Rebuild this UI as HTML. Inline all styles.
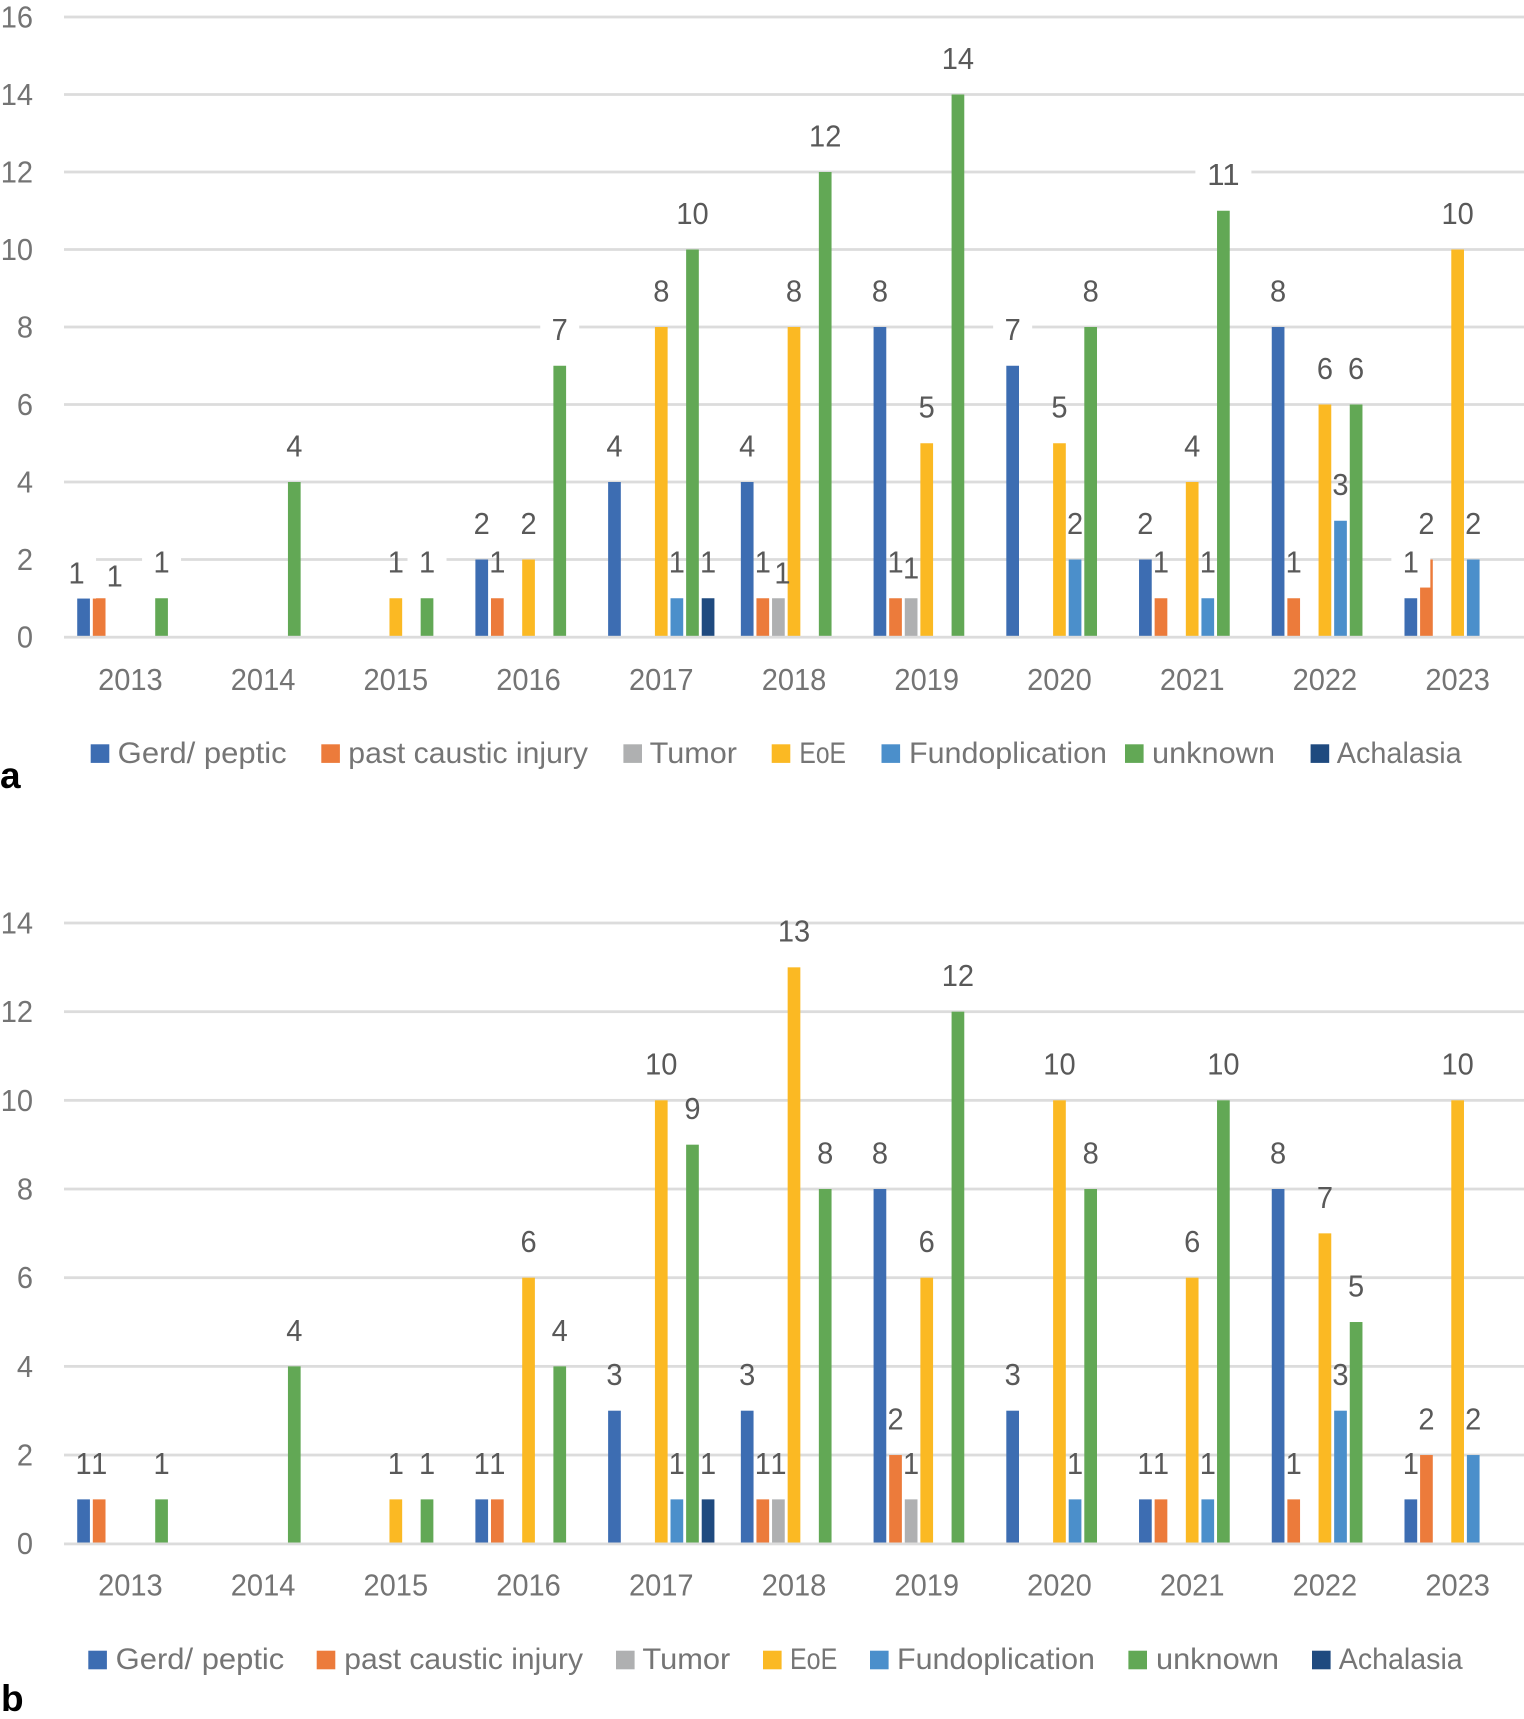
<!DOCTYPE html>
<html lang="en">
<head>
<meta charset="utf-8">
<title>Cases per year by etiology</title>
<style>
  html, body { margin: 0; padding: 0; background: #ffffff; }
  #figure { display: block; width: 1524px; height: 1719px; font-family: "Liberation Sans", sans-serif; }
  .tick { font-size: 30.5px; fill: #747474; }
  .value { font-size: 30.5px; fill: #595959; }
  .legend-text { font-size: 30px; fill: #757575; }
  .panel { font-size: 37px; font-weight: bold; fill: #000000; }
</style>
</head>
<body>
<svg id="figure" xmlns="http://www.w3.org/2000/svg" width="1524" height="1719" viewBox="0 0 1524 1719">
  <g id="panel-a"></g>
  <g id="panel-b"></g>

  <g>
    <rect x="90.7" y="744.3" width="18.6" height="18.6" fill="#3d6db2"/>
    <text class="legend-text" x="117.7" y="763" textLength="169" lengthAdjust="spacingAndGlyphs">Gerd/ peptic</text>
    <rect x="321.3" y="744.3" width="18.6" height="18.6" fill="#ec7b3b"/>
    <text class="legend-text" x="348.3" y="763" textLength="239.7" lengthAdjust="spacingAndGlyphs">past caustic injury</text>
    <rect x="623.4" y="744.3" width="18.6" height="18.6" fill="#afb0b1"/>
    <text class="legend-text" x="649.7" y="763" textLength="87.3" lengthAdjust="spacingAndGlyphs">Tumor</text>
    <rect x="771.7" y="744.3" width="18.6" height="18.6" fill="#fbb923"/>
    <text class="legend-text" x="799.4" y="763" textLength="46.6" lengthAdjust="spacingAndGlyphs">EoE</text>
    <rect x="881.5" y="744.3" width="18.6" height="18.6" fill="#4b8fcb"/>
    <text class="legend-text" x="909" y="763" textLength="198" lengthAdjust="spacingAndGlyphs">Fundoplication</text>
    <rect x="1125" y="744.3" width="18.6" height="18.6" fill="#62a855"/>
    <text class="legend-text" x="1152" y="763" textLength="123" lengthAdjust="spacingAndGlyphs">unknown</text>
    <rect x="1310.6" y="744.3" width="18.6" height="18.6" fill="#1f4a7f"/>
    <text class="legend-text" x="1336.8" y="763" textLength="124.9" lengthAdjust="spacingAndGlyphs">Achalasia</text>
  </g>

  <g>
    <rect x="88.3" y="1650.7" width="18.6" height="18.6" fill="#3d6db2"/>
    <text class="legend-text" x="115.7" y="1669" textLength="168.6" lengthAdjust="spacingAndGlyphs">Gerd/ peptic</text>
    <rect x="316.7" y="1650.7" width="18.6" height="18.6" fill="#ec7b3b"/>
    <text class="legend-text" x="344.3" y="1669" textLength="238.7" lengthAdjust="spacingAndGlyphs">past caustic injury</text>
    <rect x="616" y="1650.7" width="18.6" height="18.6" fill="#afb0b1"/>
    <text class="legend-text" x="642.4" y="1669" textLength="87.9" lengthAdjust="spacingAndGlyphs">Tumor</text>
    <rect x="763" y="1650.7" width="18.6" height="18.6" fill="#fbb923"/>
    <text class="legend-text" x="790" y="1669" textLength="47.3" lengthAdjust="spacingAndGlyphs">EoE</text>
    <rect x="870" y="1650.7" width="18.6" height="18.6" fill="#4b8fcb"/>
    <text class="legend-text" x="897" y="1669" textLength="198" lengthAdjust="spacingAndGlyphs">Fundoplication</text>
    <rect x="1128.4" y="1650.7" width="18.6" height="18.6" fill="#62a855"/>
    <text class="legend-text" x="1156" y="1669" textLength="123" lengthAdjust="spacingAndGlyphs">unknown</text>
    <rect x="1312" y="1650.7" width="18.6" height="18.6" fill="#1f4a7f"/>
    <text class="legend-text" x="1338.8" y="1669" textLength="123.9" lengthAdjust="spacingAndGlyphs">Achalasia</text>
  </g>

  <text class="panel" x="0" y="788">a</text>
  <text class="panel" x="1" y="1711">b</text>
</svg>

<script>
// Shared categories and series names
const years = ['2013', '2014', '2015', '2016', '2017', '2018', '2019', '2020', '2021', '2022', '2023'];
const seriesKeys = ['gerd', 'caustic', 'tumor', 'eoe', 'fundoplication', 'unknown', 'achalasia'];
const seriesColors = ['#3d6db2', '#ec7b3b', '#afb0b1', '#fbb923', '#4b8fcb', '#62a855', '#1f4a7f'];

// Panel a values
const aTicks = [0, 2, 4, 6, 8, 10, 12, 14, 16];
const aGerd = [1, 0, 0, 2, 4, 4, 8, 7, 2, 8, 1];
const aCaustic = [1, 0, 0, 1, 0, 1, 1, 0, 1, 1, 2];
const aTumor = [0, 0, 0, 0, 0, 1, 1, 0, 0, 0, 0];
const aEoe = [0, 0, 1, 2, 8, 8, 5, 5, 4, 6, 10];
const aFundoplication = [0, 0, 0, 0, 1, 0, 0, 2, 1, 3, 2];
const aUnknown = [1, 4, 1, 7, 10, 12, 14, 8, 11, 6, 0];
const aAchalasia = [0, 0, 0, 0, 1, 0, 0, 0, 0, 0, 0];

// Panel b values
const bTicks = [0, 2, 4, 6, 8, 10, 12, 14];
const bGerd = [1, 0, 0, 1, 3, 3, 8, 3, 1, 8, 1];
const bCaustic = [1, 0, 0, 1, 0, 1, 2, 0, 1, 1, 2];
const bTumor = [0, 0, 0, 0, 0, 1, 1, 0, 0, 0, 0];
const bEoe = [0, 0, 1, 6, 10, 13, 6, 10, 6, 7, 10];
const bFundoplication = [0, 0, 0, 0, 1, 0, 0, 1, 1, 3, 2];
const bUnknown = [1, 4, 1, 4, 9, 8, 12, 8, 10, 5, 0];
const bAchalasia = [0, 0, 0, 0, 1, 0, 0, 0, 0, 0, 0];

const SVG_NS = 'http://www.w3.org/2000/svg';
const PLOT_LEFT = 64;
const PLOT_RIGHT = 1524;
const BAR_STEP = 15.6;
const BAR_WIDTH = 12.7;
const DIGIT_WIDTH = 16.15;
const LABEL_GAP = 25.6;

function xBand(yearIndex) {
  const band = (PLOT_RIGHT - PLOT_LEFT) / years.length;
  return PLOT_LEFT + band * (yearIndex + 0.5);
}

function xBar(yearIndex, seriesIndex) {
  return xBand(yearIndex) + (seriesIndex - 3) * BAR_STEP;
}

function make(tag, parent, text) {
  const el = document.createElementNS(SVG_NS, tag);
  if (text !== undefined) {
    el.textContent = text;
    el.setAttribute('textLength', String(text).length * DIGIT_WIDTH);
    el.setAttribute('lengthAdjust', 'spacingAndGlyphs');
  }
  parent.appendChild(el);
  return el;
}

function drawChart(cfg) {
  const root = document.getElementById(cfg.id);
  const maxTick = cfg.ticks[cfg.ticks.length - 1];
  const yScale = function (v) {
    return cfg.y0 - (cfg.y0 - cfg.yMax) * v / maxTick;
  };

  cfg.ticks.forEach(function (t) {
    if (t !== 0) {
      const line = make('rect', root);
      
      
      line.setAttribute('x', PLOT_LEFT);
      line.setAttribute('y', yScale(t) - 1.4);
      line.setAttribute('width', PLOT_RIGHT - PLOT_LEFT);
      line.setAttribute('height', 2.8);
      line.setAttribute('fill', '#dcdcdc');
    }
    const label = make('text', root, String(t));
    
    
    label.setAttribute('class', 'tick');
    label.setAttribute('x', 33);
    label.setAttribute('y', yScale(t) + 10.5);
    label.setAttribute('text-anchor', 'end');
  });

  years.forEach(function (year, i) {
    const label = make('text', root, year);
    
    
    label.setAttribute('class', 'tick');
    label.setAttribute('x', xBand(i));
    label.setAttribute('y', cfg.y0 + cfg.xLabelDrop);
    label.setAttribute('text-anchor', 'middle');
  });

  cfg.series.forEach(function (values, s) {
    values.forEach(function (v, i) {
      if (!v) return;
      const bar = make('rect', root);
      
      
      bar.setAttribute('x', xBar(i, s) - BAR_WIDTH / 2);
      bar.setAttribute('y', yScale(v));
      bar.setAttribute('width', BAR_WIDTH);
      bar.setAttribute('height', cfg.y0 - yScale(v));
      bar.setAttribute('fill', seriesColors[s]);
    });
  });

  const axis = make('rect', root);
  
  
  axis.setAttribute('x', PLOT_LEFT);
  axis.setAttribute('y', cfg.y0 - 1.2);
  axis.setAttribute('width', PLOT_RIGHT - PLOT_LEFT);
  axis.setAttribute('height', 2.8);
  axis.setAttribute('fill', '#dcdcdc');

  cfg.series.forEach(function (values, s) {
    values.forEach(function (v, i) {
      if (!v) return;
      const key = seriesKeys[s] + '-' + years[i];
      const nudge = cfg.nudges[key] || [0, 0];
      const cx = xBar(i, s) + nudge[0];
      const baseline = yScale(v) - 24.7 + nudge[1];
      if (cfg.masked.indexOf(key) !== -1) {
        const halfWidth = String(v).length > 1 ? 28 : 19.5;
        const mask = make('rect', root);
        
        
        mask.setAttribute('x', cx - halfWidth);
        mask.setAttribute('y', baseline - 34);
        mask.setAttribute('width', halfWidth * 2);
        mask.setAttribute('height', 48);
        mask.setAttribute('fill', '#ffffff');
      }
    });
  });

  cfg.series.forEach(function (values, s) {
    values.forEach(function (v, i) {
      if (!v) return;
      const key = seriesKeys[s] + '-' + years[i];
      const nudge = cfg.nudges[key] || [0, 0];
      const label = make('text', root, String(v));
      
      
      label.setAttribute('class', 'value');
      label.setAttribute('x', xBar(i, s) + nudge[0]);
      label.setAttribute('y', yScale(v) - LABEL_GAP + nudge[1]);
      label.setAttribute('text-anchor', 'middle');
    });
  });
}

drawChart({
  id: 'panel-a',
  y0: 637,
  yMax: 17,
  xLabelDrop: 53,
  ticks: aTicks,
  series: [aGerd, aCaustic, aTumor, aEoe, aFundoplication, aUnknown, aAchalasia],
  nudges: {
    'gerd-2013': [-7, 11],
    'caustic-2013': [15.5, 14],
    'tumor-2018': [4, 11],
    'tumor-2019': [0, 6]
  },
  masked: ['gerd-2013', 'unknown-2013', 'unknown-2015', 'unknown-2016', 'gerd-2020', 'unknown-2021', 'gerd-2023']
});

drawChart({
  id: 'panel-b',
  y0: 1543.7,
  yMax: 923,
  xLabelDrop: 52,
  ticks: bTicks,
  series: [bGerd, bCaustic, bTumor, bEoe, bFundoplication, bUnknown, bAchalasia],
  nudges: {},
  masked: []
});
</script>
</body>
</html>
